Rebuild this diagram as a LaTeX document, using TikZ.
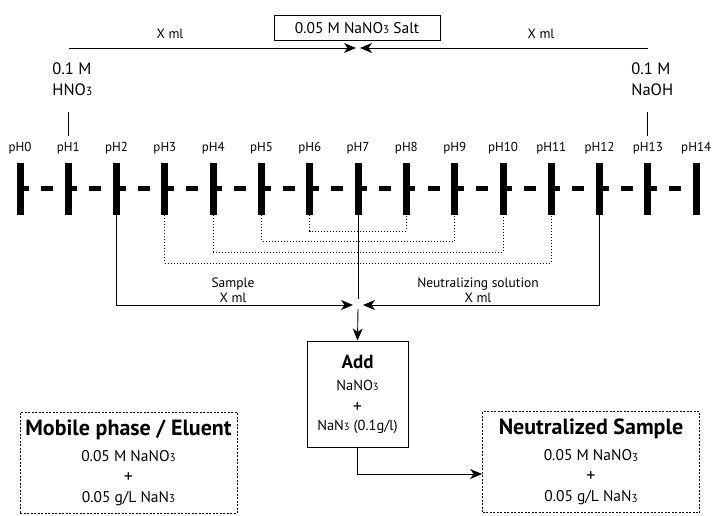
\documentclass[tikz,border=0pt]{standalone}
\usepackage{fontspec}
\setmainfont{PT Sans}
\usetikzlibrary{arrows.meta}
\newcommand{\subn}[1]{\raisebox{-0.4pt}{\scalebox{0.72}{#1}}}
\newcommand{\fsz}[2]{\fontsize{#1}{#2}\selectfont}
\newcommand{\headfont}{\bfseries\fsz{22}{24}}

\begin{document}
\begin{tikzpicture}[x=1pt, y=-1pt, line width=0.9pt,
    arr/.style={-{Stealth[length=12pt, width=10pt, inset=3.5pt]}},
    phlabel/.style={font=\fsz{13}{15}},
    conc/.style={font=\fsz{16.5}{21}, align=left, inner sep=0pt},
    vol/.style={font=\fsz{13.5}{15}, align=center, inner sep=0pt},
    tickbar/.style={fill=black, minimum width=7pt, minimum height=52pt, inner sep=0pt},
    addbox/.style={draw, line width=1pt, minimum width=101pt, minimum height=106pt, align=center, font=\fsz{14.5}{22}},
    resultbox/.style={draw, line width=0.8pt, dash pattern=on 2pt off 1.5pt, minimum width=217pt, minimum height=101pt, align=center, font=\fsz{15.5}{24}}]
  \useasboundingbox (0,0) rectangle (718,516);

  % 1. pH scale
  \draw[line width=5pt, dash pattern=on 12pt off 12.15pt] (17,189) -- (699,189);
  \foreach \i in {0,...,14} {
    \node[tickbar] (tick\i) at ({20+48.3*\i},189) {};
    \node[phlabel] (ph\i) at ({20+48.3*\i},148) {pH\i};
  }

  % 2. acid and base
  \node[conc, anchor=west] (acid) at (52,79) {0.1 M\\HNO\subn{3}};
  \node[conc, anchor=west] (base) at (631,79) {0.1 M\\NaOH};
  \draw (tick1 |- 0,112) -- (tick1 |- 0,136);
  \draw (tick13 |- 0,112) -- (tick13 |- 0,136);

  % 3. salt and titration arrows
  \node[draw, line width=1pt, minimum width=166pt, minimum height=25pt, inner sep=0pt, font=\fsz{15.5}{16}] (salt) at (357,28) {0.05 M NaNO\subn{3} Salt};
  \coordinate (top) at (358,48);
  \draw[arr] (69,48) -- ([xshift=-2pt]top);
  \draw[arr] (648,48) -- ([xshift=2pt]top);
  \node[vol] (xacid) at (170,34) {X ml};
  \node[vol] (xbase) at (541,34) {X ml};

  % 4. matching pairs
  \foreach \a/\b/\d in {3/11/263, 4/10/252, 5/9/241, 6/8/231}
    \draw[dash pattern=on 1pt off 2pt] (tick\a.south) -- (tick\a.south |- 0,\d) -- (tick\b.south |- 0,\d) -- (tick\b.south);

  % 5. sample and neutralizing solution
  \coordinate (mix) at (358,305);
  \draw (tick7.south) -- (tick7.south |- 0,299);
  \draw[arr] (tick2.south) |- ([xshift=-5pt]mix);
  \draw[arr] (tick12.south) |- ([xshift=5pt]mix);
  \node[vol] (sample) at (233,290) {Sample\\X ml};
  \node[vol] (neutsol) at (478,290) {Neutralizing solution\\X ml};

  % 6. boxes
  \node[addbox] (add) at (357.5,394) {{\bfseries\fsz{19}{20}Add}\\NaNO\subn{3}\\{\fsz{18}{20}+}\\[-4pt]NaN\subn{3} (0.1g/l)};
  \node[resultbox] (mobile) at (128.5,462.5) {{\headfont Mobile phase / Eluent}\\[2pt]0.05 M NaNO\subn{3}\\[-3pt]{\fsz{18}{20}+}\\[-4pt]0.05 g/L NaN\subn{3}};
  \node[resultbox] (neut) at (591,462) {{\headfont Neutralized Sample}\\[2pt]0.05 M NaNO\subn{3}\\[-3pt]{\fsz{18}{20}+}\\[-4pt]0.05 g/L NaN\subn{3}};
  \draw[arr] ([yshift=-4pt]mix) -- (add.north);
  \draw[arr] (add.south) |- (neut.west |- 0,474);
\end{tikzpicture}
\end{document}
